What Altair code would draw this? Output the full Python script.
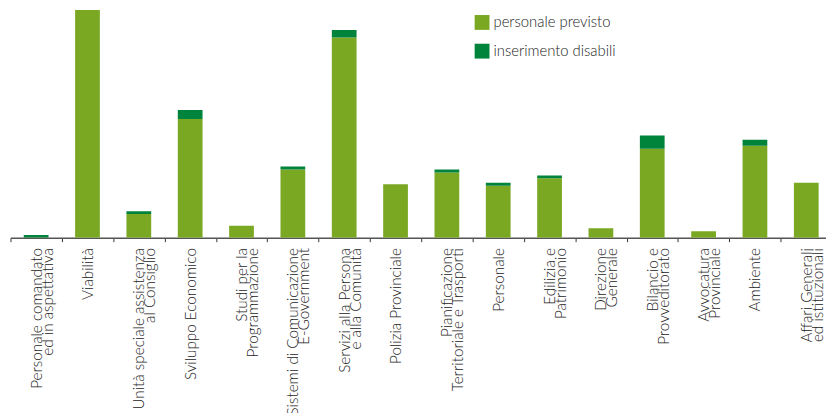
import altair as alt
import pandas as pd

categories = [
    "Personale comandato\ned in aspettativa",
    "Viabilità",
    "Unità speciale assistenza\nal Consiglio",
    "Sviluppo Economico",
    "Studi per la\nProgrammazione",
    "Sistemi di Comunicazione\nE-Government",
    "Servizi alla Persona\ne alla Comunità",
    "Polizia Provinciale",
    "Pianificazione\nTerritoriale e Trasporti",
    "Personale",
    "Edilizia e\nPatrimonio",
    "Direzione\nGenerale",
    "Bilancio e\nProvveditorato",
    "Avvocatura\nProvinciale",
    "Ambiente",
    "Affari Generali\ned istituzionali",
]
personale_previsto = [0, 90, 8, 40, 4, 23, 67.5, 18, 22, 17.5, 20, 3.2, 30, 2.2, 31, 18.5]
inserimento_disabili = [0.9, 0, 0.9, 3, 0, 1, 2.5, 0, 1, 1, 1, 0, 4.4, 0, 2, 0]

series = ["personale previsto", "inserimento disabili"]
colors = ["#7aa823", "#00833a"]

rows = []
for c, p, d in zip(categories, personale_previsto, inserimento_disabili):
    rows.append({"cat": c, "serie": series[0], "val": p, "ord": 0})
    rows.append({"cat": c, "serie": series[1], "val": d, "ord": 1})
df = pd.DataFrame(rows)

FONT = "Lato"

chart = (
    alt.Chart(df)
    .mark_bar(width=25, clip=True)
    .encode(
        x=alt.X(
            "cat:N",
            sort=categories,
            title=None,
            scale=alt.Scale(paddingInner=0, paddingOuter=0, range=[0, 830]),
            axis=alt.Axis(
                labelAngle=-90,
                labelExpr="split(datum.label, '\\n')",
                labelLineHeight=11.2,
                labelFont=FONT,
                labelFontWeight=300,
                labelFontSize=15.4,
                labelColor="#222222",
                labelPadding=6,
                tickBand="extent",
                tickSize=4,
                tickColor="#333333",
                domainColor="#555555",
                domainWidth=1.5,
                labelOverlap=False,
                labelLimit=0,
            ),
        ),
        y=alt.Y(
            "val:Q",
            stack="zero",
            scale=alt.Scale(domain=[0, 76.7], nice=False, zero=True),
            axis=None,
        ),
        color=alt.Color(
            "serie:N",
            scale=alt.Scale(domain=series, range=colors),
            legend=alt.Legend(
                orient="none",
                legendX=469,
                legendY=5,
                title=None,
                symbolType="square",
                symbolSize=225,
                symbolStrokeWidth=0,
                labelFont=FONT,
                labelFontWeight=300,
                labelFontSize=15,
                labelColor="#222222",
                labelOffset=4,
                rowPadding=13,
                padding=0,
            ),
        ),
        order=alt.Order("ord:Q"),
    )
    .properties(
        width=824,
        height=230,
        autosize=alt.AutoSizeParams(type="none"),
        padding={"left": 2.5, "top": 0, "right": 0, "bottom": 175},
    )
    .configure_view(stroke=None)
)

chart.save("out.html", embed_options={"renderer": "svg", "actions": False})
